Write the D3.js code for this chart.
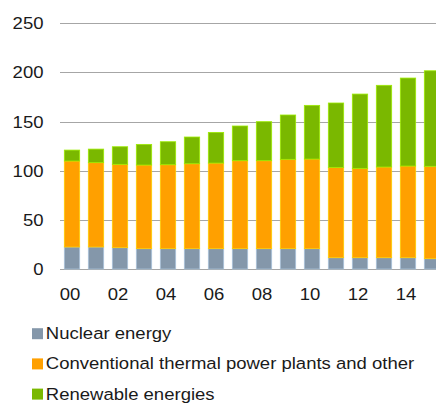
<!DOCTYPE html>
<html>
<head>
<meta charset="utf-8">
<script src="https://cdn.jsdelivr.net/npm/d3@7"></script>
<style>
  html, body { margin: 0; padding: 0; background: #fff; overflow: hidden; }
  svg { display: block; font-family: "Liberation Sans", Arial, sans-serif; }
</style>
</head>
<body>
<svg id="chart" width="436" height="403"></svg>
<script>
// Electricity generation by source, 2000–2015
const years = ["00","01","02","03","04","05","06","07","08","09","10","11","12","13","14","15"];
const tickLabels = ["00","02","04","06","08","10","12","14"];
const yTicks = [0, 50, 100, 150, 200, 250];

const nuclear      = [22.4, 22.4, 21.7, 20.7, 20.7, 20.7, 20.7, 20.7, 20.7, 20.7, 20.7, 11.5, 11.5, 11.5, 11.5, 10.5];
const conventional = [87.5, 85.8, 84.8, 85.1, 85.4, 86.4, 87.1, 89.5, 89.5, 90.9, 91.2, 91.9, 90.9, 92.3, 93.3, 94.0];
const renewable    = [11.1, 13.8, 17.9, 21.0, 23.4, 27.2, 31.2, 35.3, 39.7, 45.1, 54.6, 65.5, 75.6, 83.1, 89.5, 97.2];

const seriesNames = ["Nuclear energy", "Conventional thermal power plants and other", "Renewable energies"];
const seriesColors = ["#8497aa", "#ffa000", "#7ab800"];

const rows = years.map((yr, i) => ({
  year: yr, nuclear: nuclear[i], conventional: conventional[i], renewable: renewable[i]
}));
const keys = ["nuclear", "conventional", "renewable"];
const stack = d3.stack().keys(keys)(rows);

const svg = d3.select("#chart");
const FONT = 17, STRETCH = 1.09;

const x = d3.scaleBand().domain(years).range([60, 444]).paddingInner(0.36).paddingOuter(0.18);
const y = d3.scaleLinear().domain([0, 250]).range([269, 23.3]);

// places a slightly widened label with its anchor at (px, py)
function label(sel, px, py, anchor) {
  return sel.append("g")
    .attr("transform", (d, i) => `translate(${px(d, i)},${py(d, i)}) scale(${STRETCH},1)`)
    .append("text")
    .attr("text-anchor", anchor)
    .attr("font-size", FONT)
    .attr("fill", "#1a1a1a");
}

// horizontal gridlines
svg.append("g")
  .selectAll("line")
  .data(yTicks)
  .join("line")
  .attr("x1", 60).attr("x2", 436)
  .attr("y1", d => Math.round(y(d)) + 0.5).attr("y2", d => Math.round(y(d)) + 0.5)
  .attr("stroke", "#a6a6a6")
  .attr("stroke-width", 1);

// y-axis labels
label(svg.append("g").selectAll("g").data(yTicks).join("g"), () => 43.5, d => y(d), "end")
  .attr("dy", "0.35em")
  .text(d => d);

// stacked bars
svg.append("g")
  .selectAll("g")
  .data(stack)
  .join("g")
  .attr("fill", (d, i) => seriesColors[i])
  .attr("stroke", (d, i) => d3.color(seriesColors[i]).brighter(0.7))
  .attr("stroke-width", 0.8)
  .selectAll("rect")
  .data(d => d)
  .join("rect")
  .attr("x", d => x(d.data.year))
  .attr("width", x.bandwidth())
  .attr("y", d => y(d[1]))
  .attr("height", d => y(d[0]) - y(d[1]));

// x-axis labels
label(svg.append("g").selectAll("g").data(tickLabels).join("g"),
      d => x(d) + x.bandwidth() / 2 - 2, () => 300, "middle")
  .text(d => d);

// legend
const legend = svg.append("g")
  .selectAll("g")
  .data(seriesNames)
  .join("g")
  .attr("transform", (d, i) => `translate(32, ${339.2 + i * 30.2})`);
legend.append("rect")
  .attr("x", 0).attr("y", -11)
  .attr("width", 11).attr("height", 11)
  .attr("fill", (d, i) => seriesColors[i]);
label(legend, () => 13.8, () => 0, "start")
  .text(d => d);
</script>
</body>
</html>
